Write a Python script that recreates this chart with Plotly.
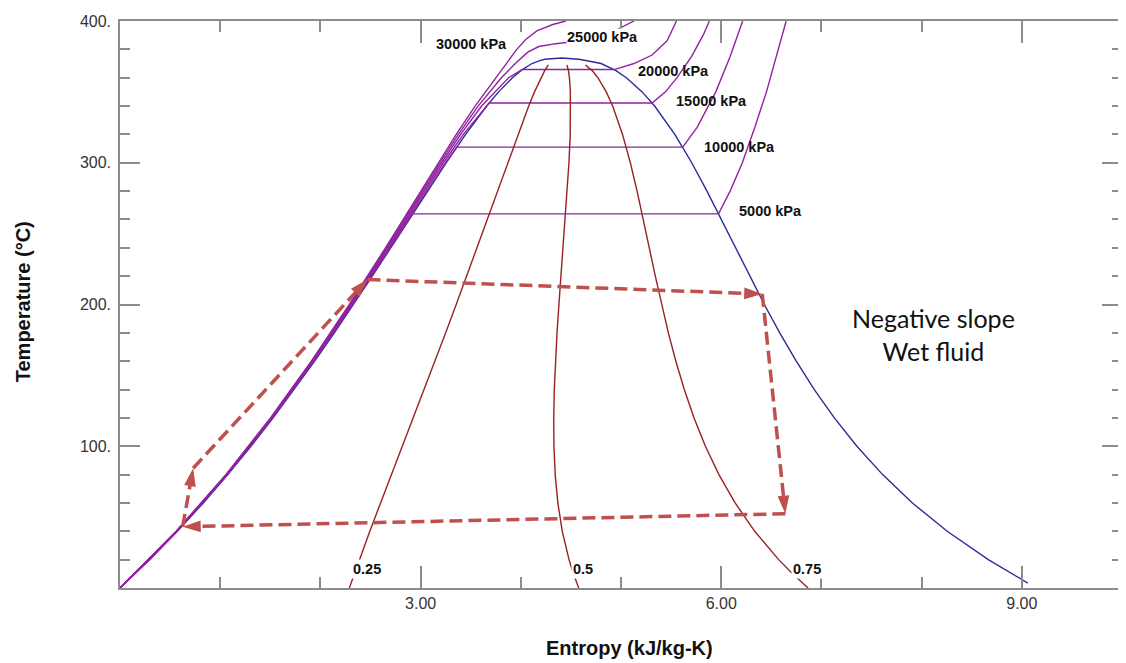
import plotly.graph_objects as go

# ---------------- data (water T-s diagram) ----------------
# saturated liquid line
sat_liq_T = [0.01, 20, 40, 60, 80, 100, 120, 140, 160, 180, 200, 220, 240, 260, 280, 300,
             320, 340, 350, 360, 365, 370, 372, 373, 373.95]
sat_liq_s = [0.0, 0.2965, 0.5724, 0.8313, 1.0756, 1.3072, 1.5279, 1.7392, 1.9426, 2.1392,
             2.3305, 2.5177, 2.7020, 2.8849, 3.0685, 3.2552, 3.4494, 3.6601, 3.7784, 3.9167,
             4.0014, 4.1112, 4.1900, 4.2400, 4.4070]
# saturated vapour line
sat_vap_T = [373.95, 373, 372, 370, 365, 360, 350, 340, 320, 300, 280, 260, 240, 220, 200,
             180, 160, 140, 120, 100, 80, 60, 40, 20, 10, 3.5]
sat_vap_s = [4.4070, 4.5800, 4.6600, 4.8012, 4.9497, 5.0536, 5.2110, 5.3356, 5.5372, 5.7059,
             5.8579, 6.0016, 6.1423, 6.2840, 6.4302, 6.5840, 6.7491, 6.9293, 7.1291, 7.3541,
             7.6111, 7.9081, 8.2555, 8.6660, 8.8998, 9.0600]

# isobars
p5000_T = [0, 40, 80, 120, 160, 200, 240, 263.94, 263.94, 280, 300, 325, 350, 375, 400]
p5000_s = [0.0001, 0.5705, 1.0723, 1.5236, 1.9374, 2.3251, 2.6983, 2.9207, 5.9737, 6.0888,
           6.2110, 6.3357, 6.4516, 6.5535, 6.6483]
p10000_T = [0, 40, 80, 120, 160, 200, 240, 280, 300, 311.0, 311.0, 325, 350, 375, 400]
p10000_s = [0.0005, 0.5685, 1.0691, 1.5191, 1.9316, 2.3174, 2.6876, 3.0565, 3.2488, 3.3603,
            5.6159, 5.7596, 5.9460, 6.0894, 6.2141]
p15000_T = [0, 40, 80, 120, 160, 200, 240, 280, 300, 320, 340, 342.16, 342.16, 350, 360, 375,
            390, 400]
p15000_s = [0.0008, 0.5666, 1.0659, 1.5148, 1.9259, 2.3100, 2.6774, 3.0410, 3.2279, 3.4263,
            3.6555, 3.6848, 5.3108, 5.4438, 5.5590, 5.7050, 5.8200, 5.8819]
p20000_T = [0, 40, 80, 120, 160, 200, 240, 280, 300, 320, 340, 360, 365.75, 365.75, 370, 376,
            386, 400]
p20000_s = [0.0006, 0.5646, 1.0627, 1.5105, 1.9203, 2.3027, 2.6676, 3.0265, 3.2091, 3.3996,
            3.6086, 3.8787, 4.0146, 4.9330, 5.1300, 5.3100, 5.4600, 5.5540]
p25000_T = [0, 40, 80, 120, 160, 200, 240, 280, 300, 320, 340, 360, 370, 378, 382, 384, 386,
            390, 396, 400]
p25000_s = [0.0005, 0.5626, 1.0595, 1.5062, 1.9148, 2.2957, 2.6583, 3.0132, 3.1925, 3.3770,
            3.5740, 3.8060, 3.9450, 4.0700, 4.1800, 4.3500, 4.6000, 4.8500, 5.0200, 5.1300]
p30000_T = [0, 40, 80, 120, 160, 200, 240, 280, 300, 320, 340, 360, 370, 380, 387, 393, 397.5,
            400]
p30000_s = [0.0003, 0.5607, 1.0564, 1.5020, 1.9094, 2.2888, 2.6491, 3.0001, 3.1761, 3.3558,
            3.5438, 3.7499, 3.8500, 3.9600, 4.0500, 4.1600, 4.3200, 4.4500]
isobar_labels = ["5000 kPa", "10000 kPa", "15000 kPa", "20000 kPa", "25000 kPa", "30000 kPa"]
isobar_label_s = [6.17, 5.82, 5.535, 5.156, 4.454, 3.14]
isobar_label_T = [265.9, 311.4, 343.4, 364.9, 388.7, 383.6]

# constant-quality lines
qual_T = [0.01, 5, 10, 20, 40, 60, 80, 100, 120, 140, 160, 180, 200, 220, 240, 260, 280, 300,
          320, 340, 350, 360, 365, 369]
q25_s = [2.2889, 2.3135, 2.3383, 2.3889, 2.4932, 2.6005, 2.7095, 2.8189, 2.9282, 3.0367, 3.1442,
         3.2504, 3.3554, 3.4593, 3.5621, 3.6641, 3.7659, 3.8679, 3.9714, 4.0790, 4.1366, 4.2009,
         4.2385, 4.2750]
q50_s = [4.5778, 4.5506, 4.5255, 4.4813, 4.4140, 4.3697, 4.3434, 4.3307, 4.3285, 4.3343, 4.3459,
         4.3616, 4.3804, 4.4009, 4.4222, 4.4433, 4.4632, 4.4806, 4.4933, 4.4979, 4.4947, 4.4852,
         4.4756, 4.4600]
q75_s = [6.8666, 6.7878, 6.7126, 6.5736, 6.3347, 6.1389, 5.9772, 5.8424, 5.7288, 5.6318, 5.5475,
         5.4728, 5.4053, 5.3424, 5.2822, 5.2224, 5.1606, 5.0932, 5.0153, 4.9167, 4.8529, 4.7694,
         4.7126, 4.6450]
qual_labels = ["0.25", "0.5", "0.75"]
qual_label_s = [2.308, 4.504, 6.70]
qual_label_T = [13.6, 13.6, 13.6]

# Rankine cycle sketch (dashed arrows)
cycle_s = [0.625, 0.73, 2.47, 6.41, 6.64, 0.625]
cycle_T = [43.2, 84.5, 217.6, 207.4, 52.4, 43.2]

# axis ticks
x_tick_vals = [3, 6, 9]
x_tick_text = ["3.00", "6.00", "9.00"]
y_tick_vals = [100, 200, 300, 400]
y_tick_text = ["100.", "200.", "300.", "400."]

# ---------------- styles ----------------
BLUE = "#2a2c9c"
PURPLE = "#90239f"
DARKRED = "#982222"
CYCLE = "#c0504d"
GRAY = "#8c8c8c"
FONT = "Liberation Sans, Arial, sans-serif"

fig = go.Figure()

fig.add_trace(go.Scatter(x=sat_liq_s + sat_vap_s, y=sat_liq_T + sat_vap_T, mode="lines",
                         line=dict(color=BLUE, width=1.4), hoverinfo="skip", showlegend=False))

for s_arr, T_arr in [(p5000_s, p5000_T), (p10000_s, p10000_T), (p15000_s, p15000_T),
                     (p20000_s, p20000_T), (p25000_s, p25000_T), (p30000_s, p30000_T)]:
    fig.add_trace(go.Scatter(x=s_arr, y=T_arr, mode="lines",
                             line=dict(color=PURPLE, width=1.4), hoverinfo="skip",
                             showlegend=False))

for s_arr in [q25_s, q50_s, q75_s]:
    fig.add_trace(go.Scatter(x=s_arr, y=qual_T, mode="lines",
                             line=dict(color=DARKRED, width=1.4), hoverinfo="skip",
                             showlegend=False))

fig.add_trace(go.Scatter(
    x=cycle_s, y=cycle_T, mode="lines+markers",
    line=dict(color=CYCLE, width=3.5, dash="13px,6px"),
    marker=dict(symbol="arrow", size=[0, 19, 19, 19, 19, 19], angleref="previous",
                color=CYCLE, opacity=1, line=dict(width=0)),
    hoverinfo="skip", showlegend=False))

annotations = []
for txt, sx, ty in zip(isobar_labels, isobar_label_s, isobar_label_T):
    annotations.append(dict(x=sx, y=ty, xref="x", yref="y", text=txt, showarrow=False,
                            xanchor="left", yanchor="middle", borderpad=0,
                            bgcolor="white" if txt == "25000 kPa" else "rgba(0,0,0,0)",
                            font=dict(family=FONT, size=14.5, color="#111", weight="bold")))
for txt, sx, ty in zip(qual_labels, qual_label_s, qual_label_T):
    annotations.append(dict(x=sx, y=ty, xref="x", yref="y", text=txt, showarrow=False,
                            xanchor="left", yanchor="middle", borderpad=1, bgcolor="white",
                            font=dict(family=FONT, size=14.5, color="#111", weight="bold")))

annotations.append(dict(x=8.12, y=178.5, xref="x", yref="y",
                        text="Negative slope<br>Wet fluid", showarrow=False,
                        xanchor="center", yanchor="middle", align="center",
                        font=dict(family="Lato, Open Sans, sans-serif", size=25, color="#111")))
annotations.append(dict(x=0.508, y=-0.106, xref="paper", yref="paper",
                        text="Entropy (kJ/kg-K)", showarrow=False,
                        xanchor="center", yanchor="middle",
                        font=dict(family=FONT, size=20, color="#111", weight="bold")))
annotations.append(dict(x=-0.0968, y=0.504, xref="paper", yref="paper",
                        text="Temperature (°C)", showarrow=False, textangle=-90,
                        xanchor="center", yanchor="middle",
                        font=dict(family=FONT, size=20, color="#111", weight="bold")))

axis_common = dict(showline=True, linecolor=GRAY, linewidth=1.5, mirror="allticks",
                   ticks="inside", tickcolor=GRAY, tickwidth=1.5, showgrid=False,
                   zeroline=False, tickmode="array", automargin=False,
                   tickfont=dict(family=FONT, size=16, color="#333"))

fig.update_xaxes(range=[0, 10], tickvals=x_tick_vals, ticktext=x_tick_text, ticklen=22,
                 ticklabelstandoff=0,
                 minor=dict(tickmode="linear", tick0=0, dtick=1, ticklen=11, ticks="inside",
                            tickcolor=GRAY, tickwidth=1.5),
                 **axis_common)
fig.update_yaxes(range=[0, 400], tickvals=y_tick_vals, ticktext=y_tick_text, ticklen=20,
                 ticklabelstandoff=4,
                 minor=dict(tickmode="linear", tick0=0, dtick=20, ticklen=10, ticks="inside",
                            tickcolor=GRAY, tickwidth=1.5),
                 **axis_common)

# the page body adds an 8 px margin, so the figure is sized to fit the window
fig.update_layout(width=1118, height=655, margin=dict(l=112, r=4, t=13, b=75),
                  paper_bgcolor="white", plot_bgcolor="white", showlegend=False,
                  annotations=annotations)

fig.write_html("out.html")
